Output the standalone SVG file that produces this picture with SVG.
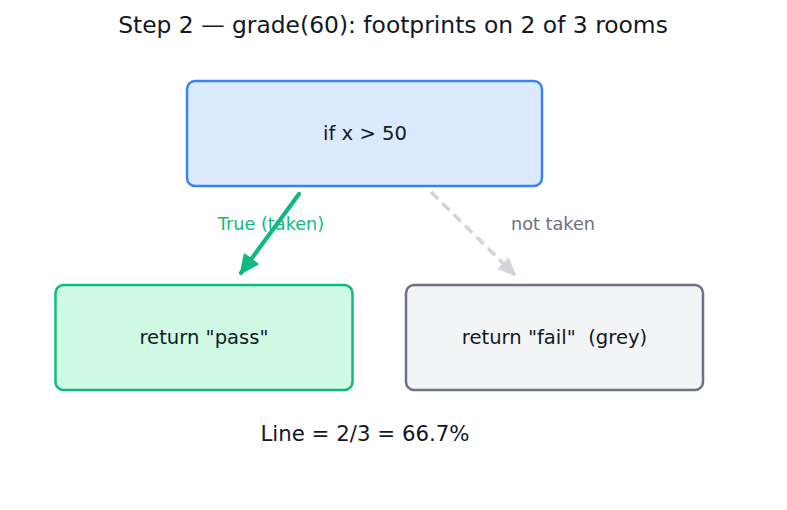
<svg xmlns="http://www.w3.org/2000/svg" width="787" height="510" viewBox="0 0 787 510">
<style>
  text { font-family: "DejaVu Sans", "Liberation Sans", sans-serif; text-anchor: middle; dominant-baseline: central; white-space: pre; }
  .title { font-size: 23.4px; fill: #111827; }
  .node-text { font-size: 19.6px; fill: #111827; }
  .edge-label { font-size: 17.7px; }
  .box { stroke-width: 2.5; }
</style>
<defs>
  <marker id="ahGreen" markerUnits="userSpaceOnUse" markerWidth="22" markerHeight="20" refX="18" refY="9" orient="auto" overflow="visible">
    <path d="M1,1 L18,9 L1,17 Z" fill="#10b981" stroke="#10b981" stroke-width="2" stroke-linejoin="round"/>
  </marker>
  <marker id="ahGrey" markerUnits="userSpaceOnUse" markerWidth="22" markerHeight="20" refX="17" refY="8" orient="auto" overflow="visible">
    <path d="M1,1 L17,8 L1,15 Z" fill="#d1d5db" stroke="#d1d5db" stroke-width="1.5" stroke-linejoin="round"/>
  </marker>
</defs>
<rect width="787" height="510" fill="#ffffff"/>
<text class="title" x="393" y="25">Step 2 — grade(60): footprints on 2 of 3 rooms</text>
<g id="connectors">
  <line x1="299" y1="194" x2="241" y2="273" stroke="#10b981" stroke-width="4.2" stroke-linecap="round" marker-end="url(#ahGreen)"/>
  <line x1="431" y1="192" x2="515" y2="275" stroke="#d1d5db" stroke-width="3.5" stroke-dasharray="10,6" marker-end="url(#ahGrey)"/>
  <text class="edge-label" x="271" y="224" fill="#10b981">True (taken)</text>
  <text class="edge-label" x="553" y="224" fill="#6b7280">not taken</text>
</g>
<g id="node-if">
  <rect class="box" x="187" y="81" width="355" height="105" rx="8" fill="#dbeafe" stroke="#3b82f6"/>
  <text class="node-text" x="365" y="133.5">if x &gt; 50</text>
</g>
<g id="node-pass">
  <rect class="box" x="55.5" y="285" width="297" height="105" rx="8" fill="#d1fae5" stroke="#10b981"/>
  <text class="node-text" x="204" y="337">return "pass"</text>
</g>
<g id="node-fail">
  <rect class="box" x="406" y="285" width="297" height="105" rx="8" fill="#f3f4f6" stroke="#6b7280"/>
  <text class="node-text" x="554.5" y="337">return "fail"  (grey)</text>
</g>
<text x="365" y="433" style="font-size:21.3px;fill:#111827">Line = 2/3 = 66.7%</text>
</svg>
